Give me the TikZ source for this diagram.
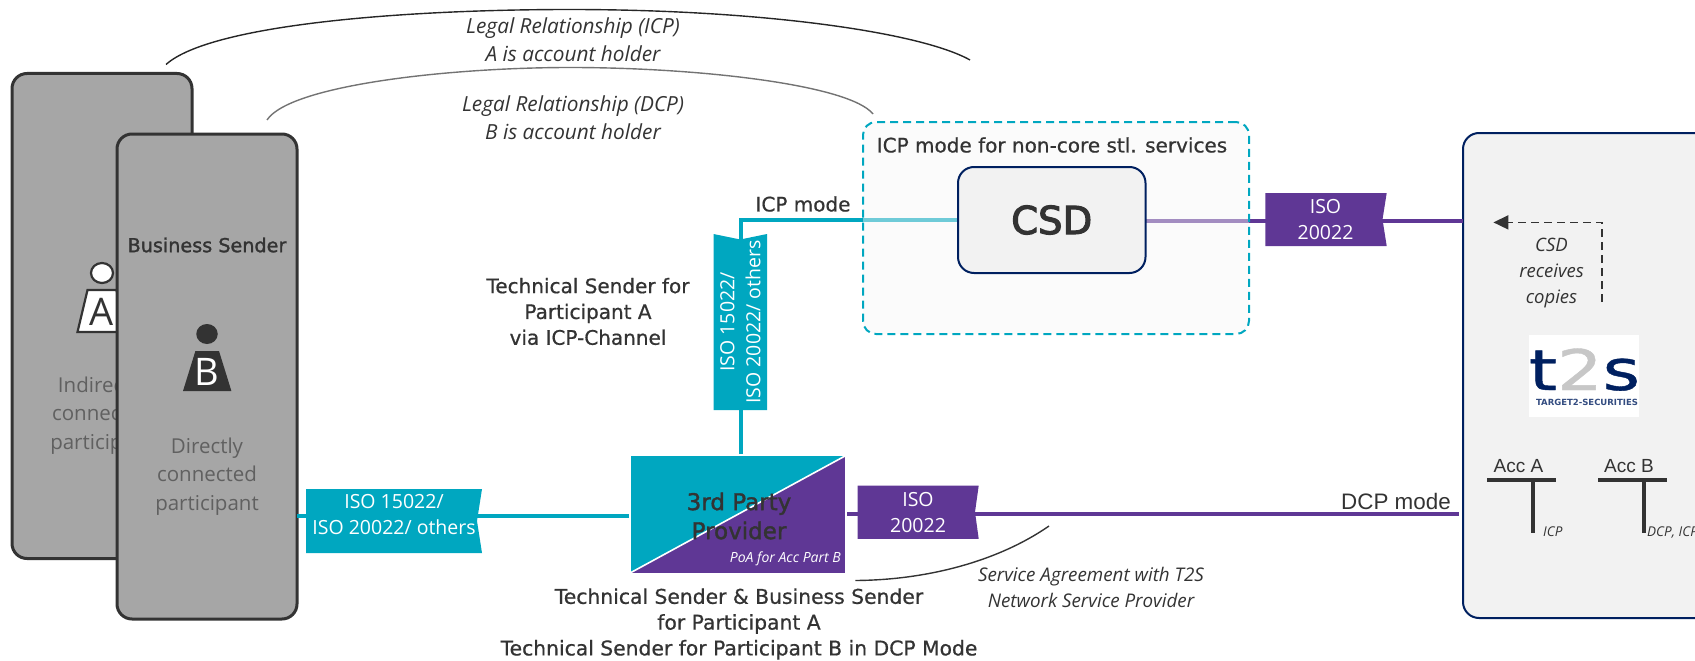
\documentclass[tikz,border=0pt]{standalone}
\usepackage{fontspec}
\usetikzlibrary{arrows.meta,calc,shapes.geometric}
\setmainfont{Open Sans}
\newfontfamily\lab{DejaVu Sans}
\newfontfamily\labmd[FakeBold=0.7]{DejaVu Sans}
\newfontfamily\labsb[FakeBold=1.5]{DejaVu Sans}
\newfontfamily\labxb[FakeBold=3]{DejaVu Sans}
\newfontfamily\arl{Liberation Sans}
\definecolor{teal1}{HTML}{00A7C0}
\definecolor{purp}{HTML}{5F3795}
\definecolor{navy}{HTML}{002060}
\definecolor{boxgrey}{HTML}{A6A6A6}
\definecolor{ink}{HTML}{333333}
\definecolor{soft}{HTML}{606060}
\definecolor{panel}{HTML}{F2F2F2}
\tikzset{
  partbox/.style={draw=ink,line width=3pt,fill=boxgrey,rounded corners=15pt,inner sep=0,outer sep=0,minimum width=180pt,minimum height=485pt},
  softtxt/.style={font=\fontsize{20.5}{28.5}\selectfont,text=soft,align=center,inner sep=0},
  lbl/.style={font=\labmd\fontsize{20}{25.8}\selectfont,text=ink,align=center,inner sep=0},
  itl/.style={font=\itshape\fontsize{20.8}{28}\selectfont,text=ink,align=center,inner sep=0},
  bantxt/.style={font=\fontsize{19.5}{26}\selectfont,text=white,align=center,inner sep=0},
  arcline/.style={line width=1.4pt},
  conn/.style={line width=4pt},
  accbar/.style={line width=4pt,draw=ink},
}
\begin{document}
\begin{tikzpicture}[x=1pt,y=-1pt]
\useasboundingbox (0,0) rectangle (1695,661);
\clip (0,0) rectangle (1695,661);
% participant A
\node[partbox] (boxA) at (102,316) {};
\node[draw=ink,line width=2.2pt,fill=white,ellipse,minimum width=22pt,minimum height=20pt,inner sep=0] (headA) at (102,273) {};
\path[draw=ink,line width=2.2pt,fill=white] (87.5,290) -- (116.5,290) -- (126.5,332) -- (77.5,332) -- cycle;
\node[font=\fontsize{38}{38}\selectfont,text=ink,inner sep=0] (letA) at (102,312) {A};
\node[softtxt] (txtA) at (102,415.5) {Indirectly\\connected\\participant};
% participant B
\node[partbox] (boxB) at (207,376.5) {};
\node[font=\labsb\fontsize{19.2}{22}\selectfont,text=ink,inner sep=0] (bsend) at (207,245) {Business Sender};
\node[fill=ink,ellipse,minimum width=21.5pt,minimum height=20pt,inner sep=0] (headB) at (207,334) {};
\path[fill=ink] (195.4,351) -- (219,351) -- (231.4,391) -- (183,391) -- cycle;
\node[font=\fontsize{38}{38}\selectfont,text=white,inner sep=0] (letB) at (207,372) {B};
\node[softtxt] (txtB) at (207,476.5) {Directly\\connected\\participant};
% T2S panel
\node[draw=navy,line width=2pt,fill=panel,rounded corners=16pt,inner sep=0,outer sep=0,minimum width=280pt,minimum height=485pt] (t2s) at (1603,375.5) {};
% provider
\node[fill=purp,inner sep=0,outer sep=0,minimum width=214pt,minimum height=116.5pt] (prov) at (738,514.25) {};
\path[fill=teal1] (prov.north west) -- (prov.north east) -- (prov.south west) -- cycle;
\draw[white,line width=1.6pt] (prov.north east) -- (prov.south west);
% connectors
\draw[conn,teal1] (boxB.east |- 394,516) -- ([xshift=-2pt]prov.west |- 394,516);
\draw[conn,teal1] ([xshift=2.6pt,yshift=2pt]prov.north) -- (740.6,220) -- (958,220);
\draw[conn,purp] ([xshift=2pt]prov.east) -- ([xshift=-4pt]prov.east -| t2s.west);
\draw[conn,purp] (1145.5,220.5) -- (t2s.west |- 0,220.5);
% ICP mode dashed frame
\node[draw=teal1,line width=2pt,dash pattern=on 8pt off 5pt,fill=panel!60!white,fill opacity=0.45,draw opacity=1,rounded corners=13pt,inner sep=0,outer sep=0,minimum width=386pt,minimum height=212pt] (icpbox) at (1056,228) {};
\node[lbl] (icptxt) at (1052,145) {ICP mode for non-core stl. services};
\node[draw=navy,line width=2pt,fill=panel,rounded corners=16pt,inner sep=0,outer sep=0,minimum width=187.5pt,minimum height=106pt] (csd) at (1051.75,220) {};
\node[font=\labxb\fontsize{38.5}{38}\selectfont,text=ink,inner sep=0] (csdtxt) at (1051.75,220) {CSD};
\node[font=\labsb\fontsize{23}{29}\selectfont,text=ink,align=center,inner sep=0] (provtxt) at (739,516) {3rd Party\\Provider};
\node[font=\itshape\fontsize{14}{15}\selectfont,text=white,anchor=east,inner sep=0] (poa) at (841,558.6) {PoA for Acc Part B};
% banners
\path[fill=teal1] (306,489) -- (482,489) -- (477,521) -- (482,553) -- (306,553) -- cycle;
\node[bantxt] (ban15) at (394,515) {ISO 15022/\\ISO 20022/ others};
\path[fill=teal1] (713.5,234) -- (740.3,239.5) -- (767,234) -- (767,410) -- (713.5,410) -- cycle;
\node[bantxt,rotate=90] (banv) at (740.3,322) {ISO 15022/\\ISO 20022/ others};
\path[fill=purp] (857.7,485.7) -- (978.7,485.7) -- (975,512) -- (978.7,538.8) -- (857.7,538.8) -- cycle;
\node[bantxt] (banp) at (918,512.6) {ISO\\20022};
\path[fill=purp] (1265.4,193) -- (1386.7,193) -- (1382.5,219.5) -- (1386.7,246) -- (1265.4,246) -- cycle;
\node[bantxt] (banq) at (1325.5,219.8) {ISO\\20022};
% arcs
\coordinate (a1) at (166,64.5); \coordinate (a2) at (570,9.5); \coordinate (a3) at (970,60);
\draw[arcline,black!85] (a1) .. controls (210,25) and (400,9.5) .. (a2) .. controls (760,9.5) and (920,32) .. (a3);
\coordinate (b1) at (267,120); \coordinate (b2) at (570,67.5); \coordinate (b3) at (873,114);
\draw[arcline,black!55] (b1) .. controls (290,85) and (450,67.5) .. (b2) .. controls (700,67.5) and (850,85) .. (b3);
\coordinate (c1) at (855.4,580.5); \coordinate (c2) at (1049,526);
\draw[arcline,ink] (c1) .. controls (930,580) and (1000,560) .. (c2);
% labels
\node[itl] (li) at (573,39.5) {Legal Relationship (ICP)\\A is account holder};
\node[itl] (ld) at (573,118) {Legal Relationship (DCP)\\B is account holder};
\node[lbl] (icpm) at (803,204) {ICP mode};
\node[lbl] (tsa) at (588,311.5) {Technical Sender for\\Participant A\\via ICP-Channel};
\node[lbl,font=\labmd\fontsize{20.3}{25.8}\selectfont] (tsb) at (739,624) {Technical Sender \& Business Sender\\for Participant A\\Technical Sender for Participant B in DCP Mode};
\node[itl,font=\itshape\fontsize{18.8}{25.6}\selectfont] (sa) at (1091,587.5) {Service Agreement with T2S\\Network Service Provider};
\node[font=\arl\fontsize{22.4}{24}\selectfont,text=ink,inner sep=0] (dcpm) at (1396,501.4) {DCP mode};
% copies arrow
\coordinate (q1) at (1602,302); \coordinate (q2) at (1602,222.4); \coordinate (q3) at (1493.4,222.4);
\draw[ink,line width=1.8pt,dash pattern=on 8pt off 5pt,-{Triangle[length=15pt,width=14pt]}] (q1) -- (q2) -- (q3);
\node[itl,font=\itshape\fontsize{18.5}{26}\selectfont] (csdr) at (1551.5,272.7) {CSD\\receives\\copies};
% logo
\node[fill=white,inner sep=0,minimum width=110.5pt,minimum height=81.6pt] (logo) at (1584.2,375.8) {};
\node[font=\labmd\fontsize{56}{56}\selectfont,text=navy,xscale=1.28,inner sep=0,anchor=base] (lmark) at (1584.5,390) {t\textcolor{black!22}{2}s};
\node[font=\lab\bfseries\fontsize{8.5}{9}\selectfont,text=navy!80!white,inner sep=0] (lsub) at (1587,402) {TARGET2-SECURITIES};
% accounts
\node[font=\arl\fontsize{19}{22}\selectfont,text=ink,inner sep=0] (acca) at (1518.4,465.6) {Acc A};
\node[font=\arl\fontsize{19}{22}\selectfont,text=ink,inner sep=0] (accb) at (1629,465.6) {Acc B};
\coordinate (aL) at (1487,480); \coordinate (aR) at (1556,480); \coordinate (aT) at (1533,480); \coordinate (aS) at (1533,533);
\coordinate (bL) at (1598,480); \coordinate (bR) at (1667,480); \coordinate (bT) at (1643.6,480); \coordinate (bS) at (1643.6,533);
\draw[accbar] (aL) -- (aR); \draw[accbar] (aT) -- (aS);
\draw[accbar] (bL) -- (bR); \draw[accbar] (bT) -- (bS);
\node[font=\itshape\fontsize{13.5}{15}\selectfont,text=ink,anchor=west,inner sep=0] (ica) at (1543,532) {ICP};
\node[font=\itshape\fontsize{13.5}{15}\selectfont,text=ink,anchor=west,inner sep=0] (icb) at (1647,532) {DCP, ICP};
\end{tikzpicture}
\end{document}
